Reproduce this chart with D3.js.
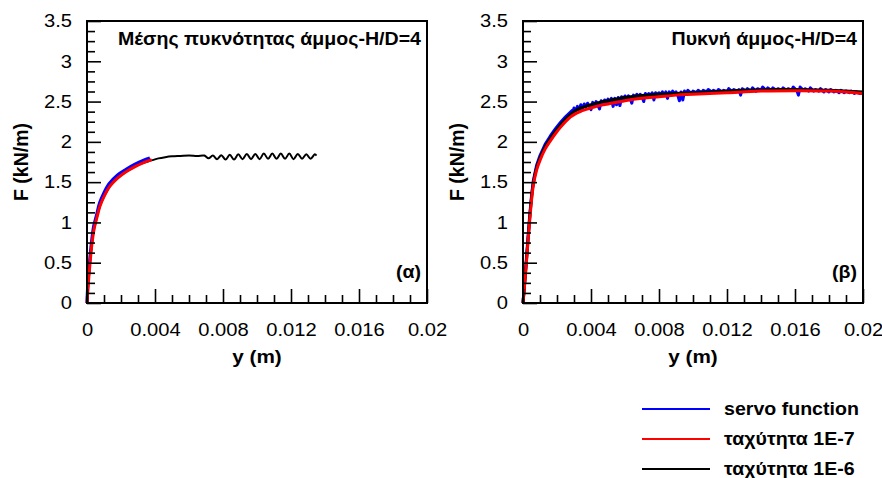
<!DOCTYPE html>
<html>
<head>
<meta charset="utf-8">
<script src="https://cdn.jsdelivr.net/npm/d3@7"></script>
<style>
  body { margin: 0; background: #fff; }
  svg text { font-family: "Liberation Sans", Arial, sans-serif; fill: #000; }
</style>
</head>
<body>
<svg id="chart" width="882" height="478"></svg>
<script>
// ---- axis ticks ----
const xTicks = [0, 0.004, 0.008, 0.012, 0.016, 0.02];
const xTickLabels = ["0", "0.004", "0.008", "0.012", "0.016", "0.02"];
const xMinorTicks = [0.001, 0.002, 0.003, 0.005, 0.006, 0.007, 0.009, 0.01, 0.011, 0.013, 0.014, 0.015, 0.017, 0.018, 0.019];
const yTicks = [0, 0.5, 1, 1.5, 2, 2.5, 3, 3.5];
const yTickLabels = ["0", "0.5", "1", "1.5", "2", "2.5", "3", "3.5"];
const yMinorTicks = [0.125, 0.25, 0.375, 0.625, 0.75, 0.875, 1.125, 1.25, 1.375, 1.625, 1.75, 1.875,
  2.125, 2.25, 2.375, 2.625, 2.75, 2.875, 3.125, 3.25, 3.375];

// ---- legend ----
const seriesNames = ["servo function", "ταχύτητα 1E-7", "ταχύτητα 1E-6"];
const seriesColors = ["#0000ff", "#ff0000", "#000000"];

// ---- panel (α): medium-dense sand, H/D=4  [y (m), F (kN/m)] ----
const aServo = [[0,0],[0.00006,0.27],[0.00016,0.53],[0.00028,0.78],[0.0004,0.96],[0.00055,1.08],
  [0.00074,1.24],[0.00098,1.36],[0.0013,1.48],[0.0018,1.59],[0.0023,1.66],[0.0028,1.72],[0.0033,1.77],[0.0037,1.8]];
const aRate7 = [[0,0],[0.00008,0.25],[0.00018,0.5],[0.0003,0.75],[0.00042,0.92],[0.00057,1.05],
  [0.00076,1.2],[0.001,1.32],[0.00135,1.45],[0.0018,1.55],[0.0023,1.63],[0.0028,1.69],[0.0033,1.74],[0.0038,1.78]];
const aRate6 = [[0,0],[0.00008,0.25],[0.00018,0.5],[0.0003,0.75],[0.00042,0.92],[0.00057,1.05],
  [0.00076,1.2],[0.001,1.32],[0.00135,1.45],[0.0018,1.55],[0.0023,1.63],[0.0028,1.69],[0.0033,1.74],[0.0038,1.77],
  [0.0042,1.795],[0.0046,1.81],[0.005,1.82],[0.0055,1.825],[0.006,1.83],[0.0065,1.825],[0.0069,1.83],
  [0.00715,1.795],[0.0074,1.83],[0.00765,1.785],[0.0079,1.835],[0.00815,1.78],[0.0084,1.84],[0.00865,1.78],
  [0.0089,1.845],[0.00915,1.785],[0.0094,1.85],[0.00965,1.785],[0.0099,1.85],[0.01015,1.785],[0.0104,1.855],
  [0.01065,1.79],[0.0109,1.855],[0.01115,1.79],[0.0114,1.855],[0.01165,1.79],[0.0119,1.855],[0.01215,1.785],
  [0.0124,1.85],[0.01265,1.79],[0.0129,1.845],[0.01315,1.79],[0.0134,1.845],[0.0135,1.83]];

// ---- panel (β): dense sand, H/D=4 ----
const bServo = [[0,0],[0.0001,0.27],[0.0002,0.55],[0.0003,0.83],[0.0004,1.1],[0.0005,1.33],[0.0006,1.51],
  [0.0008,1.71],[0.001,1.83],[0.0013,1.97],[0.0016,2.07],[0.0019,2.16],[0.0022,2.24],[0.0025,2.31],[0.0027,2.35],
  [0.0029,2.39],[0.00295,2.36],[0.003,2.42],[0.0031,2.38],[0.0032,2.44],[0.0033,2.39],[0.0034,2.46],[0.0035,2.41],
  [0.0036,2.47],[0.0037,2.43],[0.0038,2.48],[0.0039,2.44],[0.004,2.4],[0.0041,2.49],[0.0042,2.45],[0.0043,2.5],
  [0.0044,2.46],[0.0045,2.41],[0.0046,2.51],[0.0047,2.47],[0.0048,2.52],[0.0049,2.48],[0.005,2.53],[0.0051,2.49],
  [0.0052,2.54],[0.0053,2.44],[0.0054,2.54],[0.0055,2.46],[0.0056,2.55],[0.0057,2.45],[0.0058,2.56],[0.0059,2.52],
  [0.006,2.57],[0.0061,2.53],[0.0062,2.57],[0.0063,2.54],[0.0064,2.48],[0.0065,2.58],[0.0066,2.55],[0.0067,2.59],
  [0.0068,2.55],[0.0069,2.59],[0.007,2.56],[0.0071,2.5],[0.0072,2.6],[0.0073,2.56],[0.0074,2.6],[0.0075,2.57],
  [0.0076,2.61],[0.0077,2.52],[0.0078,2.61],[0.0079,2.58],[0.008,2.61],[0.0081,2.58],[0.0082,2.62],[0.0083,2.58],
  [0.0084,2.62],[0.0085,2.54],[0.0086,2.62],[0.0087,2.59],[0.0088,2.63],[0.0089,2.6],[0.009,2.62],[0.0091,2.58],
  [0.0092,2.51],[0.0093,2.62],[0.0094,2.52],[0.0095,2.63],[0.0096,2.6],[0.0097,2.64],[0.0099,2.6],[0.01,2.63],
  [0.0102,2.61],[0.0103,2.64],[0.0105,2.61],[0.0106,2.64],[0.0108,2.62],[0.0109,2.65],[0.0111,2.62],[0.0112,2.64],
  [0.0114,2.62],[0.0115,2.65],[0.0117,2.62],[0.0118,2.64],[0.012,2.62],[0.0121,2.66],[0.0123,2.62],[0.0124,2.65],
  [0.0126,2.63],[0.0127,2.65],[0.0128,2.58],[0.0129,2.66],[0.0131,2.63],[0.0132,2.66],[0.0134,2.63],[0.0135,2.67],
  [0.0137,2.63],[0.0138,2.66],[0.014,2.64],[0.0141,2.68],[0.0143,2.64],[0.0144,2.67],[0.0146,2.64],[0.0147,2.67],
  [0.0149,2.64],[0.015,2.66],[0.0152,2.64],[0.0153,2.67],[0.0155,2.64],[0.0156,2.66],[0.0158,2.64],[0.0159,2.68],
  [0.0161,2.64],[0.0162,2.58],[0.0163,2.68],[0.0165,2.64],[0.0166,2.66],[0.0168,2.63],[0.0169,2.67],[0.0171,2.63],
  [0.0172,2.65],[0.0174,2.63],[0.0175,2.66],[0.0177,2.62],[0.0178,2.65],[0.018,2.62],[0.0181,2.65],[0.0183,2.62],
  [0.0184,2.64],[0.0186,2.61],[0.0187,2.64],[0.0189,2.61],[0.019,2.63],[0.0192,2.61],[0.0193,2.63],[0.0195,2.6],
  [0.0196,2.62],[0.0198,2.6],[0.02,2.61]];
const bRate7 = [[0,0],[0.0001,0.24],[0.0002,0.5],[0.0003,0.78],[0.0004,1.04],[0.0005,1.27],[0.0006,1.45],
  [0.0008,1.65],[0.001,1.77],[0.0013,1.91],[0.0016,2.01],[0.0019,2.1],[0.0022,2.18],[0.0025,2.25],[0.0028,2.31],
  [0.0031,2.35],[0.0034,2.38],[0.004,2.42],[0.0045,2.45],[0.005,2.47],[0.006,2.51],[0.007,2.54],[0.008,2.56],
  [0.009,2.58],[0.01,2.59],[0.012,2.61],[0.014,2.63],[0.016,2.635],[0.018,2.63],[0.02,2.6]];
const bRate6 = [[0,0],[0.0001,0.25],[0.0002,0.52],[0.0003,0.8],[0.0004,1.07],[0.0005,1.3],[0.0006,1.48],
  [0.0008,1.68],[0.001,1.8],[0.0013,1.94],[0.0016,2.04],[0.0019,2.13],[0.0022,2.21],[0.0025,2.28],[0.0028,2.34],
  [0.0031,2.39],[0.0034,2.42],[0.004,2.46],[0.0045,2.49],[0.005,2.51],[0.006,2.55],[0.007,2.575],[0.008,2.59],
  [0.009,2.6],[0.01,2.61],[0.011,2.62],[0.012,2.63],[0.013,2.64],[0.014,2.645],[0.015,2.65],[0.016,2.65],
  [0.017,2.645],[0.018,2.64],[0.019,2.63],[0.02,2.62]];

const svg = d3.select("#chart");
const SX = 1.12; // horizontal text stretch

function stretchText(sel) {
  sel.each(function () {
    const t = d3.select(this);
    const x = +(t.attr("x") || 0);
    t.attr("x", x / SX).attr("transform", `scale(${SX},1)`);
  });
}

function panel(opts) {
  const { left, right, top, bottom, title, tag, series } = opts;
  const x = d3.scaleLinear().domain([0, 0.02]).range([left, right]);
  const y = d3.scaleLinear().domain([0, 3.5]).range([bottom, top]);
  const g = svg.append("g");

  // curves
  const line = d3.line().x(d => x(d[0])).y(d => y(d[1]));
  series.forEach(s => {
    g.append("path")
      .attr("d", line.curve(s.curve)(s.data))
      .attr("fill", "none")
      .attr("stroke", s.color)
      .attr("stroke-width", s.width)
      .attr("stroke-linejoin", "round");
  });

  // minor ticks
  g.append("g").attr("transform", `translate(0,${bottom})`)
    .call(d3.axisBottom(x).tickValues(xMinorTicks).tickSize(-8).tickFormat(""))
    .call(a => a.select(".domain").remove())
    .call(a => a.selectAll("line").attr("stroke-width", 1.6));
  g.append("g").attr("transform", `translate(${left},0)`)
    .call(d3.axisLeft(y).tickValues(yMinorTicks).tickSize(-8).tickFormat(""))
    .call(a => a.select(".domain").remove())
    .call(a => a.selectAll("line").attr("stroke-width", 1.6));

  // major ticks
  const xa = g.append("g").attr("transform", `translate(0,${bottom})`)
    .call(d3.axisBottom(x).tickValues(xTicks).tickSize(-14).tickPadding(20)
      .tickFormat((d, i) => xTickLabels[i]));
  xa.select(".domain").remove();
  xa.selectAll("line").attr("stroke-width", 1.6);
  xa.selectAll("text").attr("font-size", 18).attr("font-family", null).call(stretchText);

  const ya = g.append("g").attr("transform", `translate(${left},0)`)
    .call(d3.axisLeft(y).tickValues(yTicks).tickSize(-14).tickPadding(15)
      .tickFormat((d, i) => yTickLabels[i]));
  ya.select(".domain").remove();
  ya.selectAll("line").attr("stroke-width", 1.6);
  ya.selectAll("text").attr("font-size", 18).attr("font-family", null).call(stretchText);

  // frame
  g.append("rect").attr("x", left).attr("y", top)
    .attr("width", right - left).attr("height", bottom - top)
    .attr("fill", "none").attr("stroke", "#000").attr("stroke-width", 2);

  // labels
  g.append("text").attr("x", right - 6).attr("y", 45).attr("text-anchor", "end")
    .attr("font-size", 17.5).attr("font-weight", "bold").text(title).call(stretchText);
  g.append("text").attr("x", right - 6).attr("y", 278).attr("text-anchor", "end")
    .attr("font-size", 17.5).attr("font-weight", "bold").text(tag).call(stretchText);
  g.append("text").attr("x", (left + right) / 2).attr("y", 363).attr("text-anchor", "middle")
    .attr("font-size", 18.5).attr("font-weight", "bold").text("y (m)").call(stretchText);
  g.append("text").attr("transform", `translate(${left - 66},${(top + bottom) / 2}) rotate(-90)`)
    .attr("text-anchor", "middle").attr("dy", "0.35em")
    .attr("font-size", 19.5).attr("font-weight", "bold").text("F (kN/m)");
}

const smooth = d3.curveCatmullRom.alpha(0.5);

panel({
  left: 87, right: 427, top: 21, bottom: 303,
  title: "Μέσης πυκνότητας άμμος-H/D=4", tag: "(α)",
  series: [
    { data: aServo, color: seriesColors[0], width: 3.2, curve: smooth },
    { data: aRate6, color: seriesColors[2], width: 2, curve: smooth },
    { data: aRate7, color: seriesColors[1], width: 3, curve: smooth }
  ]
});

panel({
  left: 523, right: 863, top: 21, bottom: 303,
  title: "Πυκνή άμμος-H/D=4", tag: "(β)",
  series: [
    { data: bServo, color: seriesColors[0], width: 3, curve: d3.curveLinear },
    { data: bRate6, color: seriesColors[2], width: 3, curve: smooth },
    { data: bRate7, color: seriesColors[1], width: 3, curve: smooth }
  ]
});

// legend
const legend = svg.append("g");
seriesNames.forEach((name, i) => {
  const yy = 409 + i * 30;
  legend.append("line").attr("x1", 642).attr("x2", 710).attr("y1", yy).attr("y2", yy)
    .attr("stroke", seriesColors[i]).attr("stroke-width", 2.2);
  legend.append("text").attr("x", 724).attr("y", yy + 6.5)
    .attr("font-size", 17.5).attr("font-weight", "bold").text(name).call(stretchText);
});
</script>
</body>
</html>
